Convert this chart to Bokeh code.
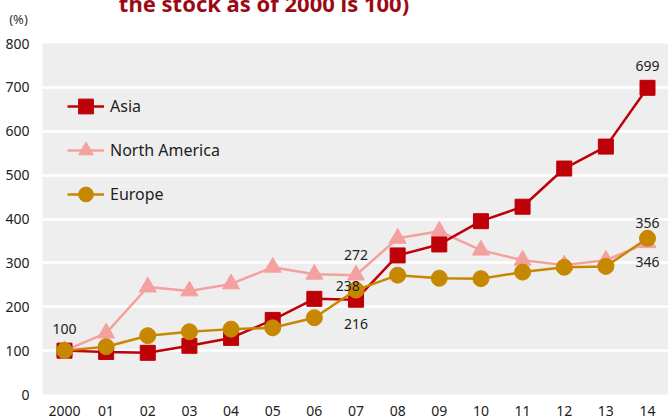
from bokeh.plotting import figure
from bokeh.layouts import column
from bokeh.models import Label, FixedTicker, Range1d, Legend, LegendItem, Div
from bokeh.embed import file_html
from bokeh.resources import INLINE

years = list(range(15))
year_labels = ["2000", "01", "02", "03", "04", "05", "06", "07", "08", "09", "10", "11", "12", "13", "14"]
asia = [100, 97, 95, 111, 129, 170, 218, 216, 317, 342, 395, 428, 515, 565, 699]
north_america = [100, 140, 245, 236, 252, 290, 274, 272, 356, 372, 329, 306, 295, 306, 346]
europe = [100, 109, 134, 143, 149, 152, 175, 238, 272, 265, 264, 279, 290, 292, 356]
y_ticks = [0, 100, 200, 300, 400, 500, 600, 700, 800]
title_text = "the stock as of 2000 is 100)"
unit_text = "(%)"

ASIA_C = "#BE0009"
NA_C = "#F4A09E"
EU_C = "#C68800"
FONT = "Noto Sans"
W, H = 668, 418
HDR = 33

# --- header strip (title cut off at the top, unit label) ---
header_html = (
    f'<div style="position:relative;width:{W}px;height:{HDR}px;overflow:hidden;'
    f'font-family:\'{FONT}\';margin:0;padding:0;">'
    f'<div style="position:absolute;left:0px;width:528px;top:-8px;text-align:center;'
    f'font-weight:bold;font-size:22px;line-height:22px;color:#9B0A14;white-space:nowrap;">'
    f'{title_text}</div>'
    f'<div style="position:absolute;left:5px;width:27px;top:13px;text-align:center;'
    f'font-size:13px;line-height:13px;color:#333333;">{unit_text}</div>'
    f'</div>'
)
hdr = Div(text=header_html, width=W, height=HDR, margin=(0, 0, 0, 0),
          styles={"margin": "0", "padding": "0", "overflow": "hidden"})

# --- main chart ---
p = figure(width=W, height=H - HDR, output_backend="svg", toolbar_location=None,
           x_range=Range1d(-0.528, 14.504), y_range=Range1d(0, 800),
           min_border_left=42, min_border_right=0, min_border_top=10, min_border_bottom=23)
p.outline_line_color = None
p.background_fill_color = "#EEEEEE"
p.border_fill_color = "white"
p.xgrid.grid_line_color = None
p.ygrid.grid_line_color = "white"
p.ygrid.grid_line_width = 2.5

p.xaxis.ticker = FixedTicker(ticks=years)
p.xaxis.major_label_overrides = {i: l for i, l in zip(years, year_labels)}
p.yaxis.ticker = FixedTicker(ticks=y_ticks)
for ax in (p.xaxis, p.yaxis):
    ax.axis_line_color = None
    ax.major_tick_line_color = None
    ax.minor_tick_line_color = None
    ax.major_label_text_font = FONT
    ax.major_label_text_font_size = "14px"
    ax.major_label_text_color = "#222222"
p.xaxis.major_label_standoff = 5
p.yaxis.major_label_standoff = 7

l2 = p.line(years, north_america, line_color=NA_C, line_width=2.5)
s2 = p.scatter(years, north_america, marker="triangle", size=17, fill_color=NA_C, line_color=NA_C)
l1 = p.line(years, asia, line_color=ASIA_C, line_width=2.5)
s1 = p.scatter(years, asia, marker="square", size=15, fill_color=ASIA_C, line_color=ASIA_C)
l3 = p.line(years, europe, line_color=EU_C, line_width=2.5)
s3 = p.scatter(years, europe, marker="circle", size=16, fill_color=EU_C, line_color=EU_C)

legend = Legend(items=[
    LegendItem(label="Asia", renderers=[l1, s1]),
    LegendItem(label="North America", renderers=[l2, s2]),
    LegendItem(label="Europe", renderers=[l3, s3]),
], location=(25, 180), orientation="vertical")
legend.glyph_width = 37
legend.glyph_height = 40
legend.label_height = 40
legend.spacing = 4
legend.padding = 0
legend.margin = 0
legend.label_standoff = 6
legend.label_text_font = FONT
legend.label_text_font_size = "16px"
legend.label_text_color = "#222222"
legend.background_fill_alpha = 0
legend.border_line_color = None
p.add_layout(legend, "center")

ann_x = [0, 7, 6.8, 7, 14, 14, 14]
ann_y = [150, 317, 247, 161, 390, 303, 749]
ann_t = ["100", "272", "238", "216", "356", "346", "699"]
for x, y, t in zip(ann_x, ann_y, ann_t):
    p.add_layout(Label(x=x, y=y, text=t, text_align="center", text_baseline="middle",
                       text_font=FONT, text_font_size="14px", text_color="#222222"))

layout = column(hdr, p, spacing=0)
open("out.html", "w").write(file_html(layout, INLINE))
